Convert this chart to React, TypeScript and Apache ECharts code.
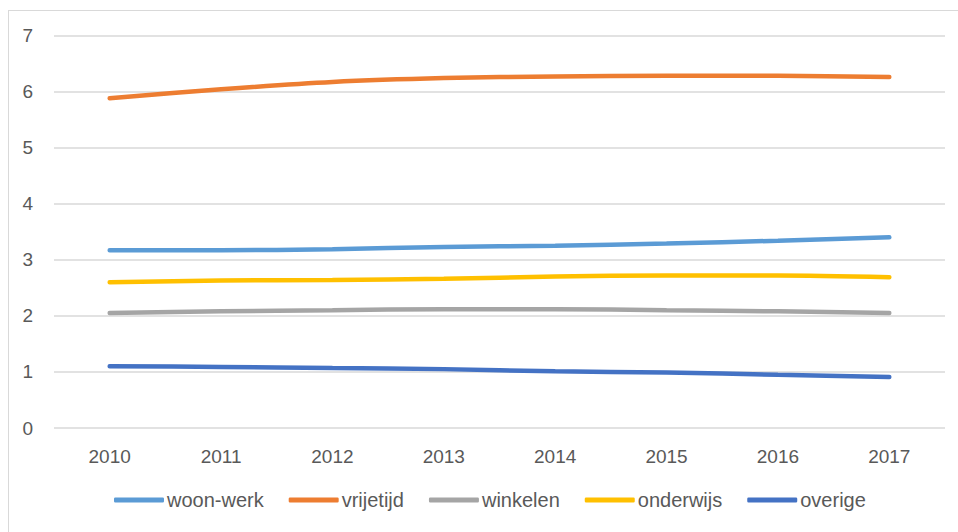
import React, { useEffect, useRef } from "react";
import * as echarts from "echarts";

const years = ["2010", "2011", "2012", "2013", "2014", "2015", "2016", "2017"];
const woonWerk = [3.17, 3.17, 3.19, 3.23, 3.25, 3.29, 3.34, 3.40];
const vrijetijd = [5.88, 6.04, 6.17, 6.24, 6.27, 6.28, 6.28, 6.26];
const winkelen = [2.05, 2.08, 2.10, 2.12, 2.12, 2.10, 2.08, 2.05];
const onderwijs = [2.60, 2.63, 2.64, 2.66, 2.70, 2.72, 2.72, 2.69];
const overige = [1.10, 1.09, 1.07, 1.05, 1.01, 0.99, 0.95, 0.91];

const seriesNames = ["woon-werk", "vrijetijd", "winkelen", "onderwijs", "overige"];
const seriesColors = ["#5B9BD5", "#ED7D31", "#A5A5A5", "#FFC000", "#4472C4"];
const seriesData = [woonWerk, vrijetijd, winkelen, onderwijs, overige];

const FONT = "'Liberation Sans', Arial, sans-serif";

export default function App() {
  const ref = useRef<HTMLDivElement>(null);
  useEffect(() => {
    if (!ref.current) return;
    const chart = echarts.init(ref.current, undefined, { renderer: "svg" });
    chart.setOption({
      animation: false,
      backgroundColor: "#ffffff",
      textStyle: { fontFamily: FONT },
      graphic: [
        { type: "line", shape: { x1: 8.5, y1: 10, x2: 8.5, y2: 532 }, style: { stroke: "#d9d9d9", lineWidth: 1 } },
        { type: "line", shape: { x1: 8, y1: 10.5, x2: 958, y2: 10.5 }, style: { stroke: "#d9d9d9", lineWidth: 1 } },
      ],
      grid: { left: 54, right: 13, top: 35.5, bottom: 104, containLabel: false },
      legend: {
        bottom: 22,
        left: 114,
        padding: 0,
        itemWidth: 50,
        itemHeight: 5,
        itemGap: 25,
        icon: "roundRect",
        textStyle: { fontFamily: FONT, fontSize: 20, color: "#595959", padding: [0, 0, 0, -2] },
        data: seriesNames,
      },
      xAxis: {
        type: "category",
        data: years,
        boundaryGap: true,
        axisLine: { show: false },
        axisTick: { show: false },
        axisLabel: { fontFamily: FONT, fontSize: 19, color: "#595959", margin: 19 },
      },
      yAxis: {
        type: "value",
        min: 0,
        max: 7,
        interval: 1,
        axisLine: { show: false },
        axisTick: { show: false },
        axisLabel: { fontFamily: FONT, fontSize: 19, color: "#595959", margin: 21 },
        splitLine: { lineStyle: { color: "#d9d9d9", width: 1.5 } },
      },
      series: seriesNames.map((name, i) => ({
        name,
        type: "line",
        data: seriesData[i],
        smooth: 0.3,
        showSymbol: false,
        symbol: "none",
        color: seriesColors[i],
        lineStyle: { width: 4.5, color: seriesColors[i], cap: "round" },
      })),
    });
    return () => chart.dispose();
  }, []);
  return <div ref={ref} style={{ width: 958, height: 532, position: "absolute", left: 0, top: 0 }} />;
}
